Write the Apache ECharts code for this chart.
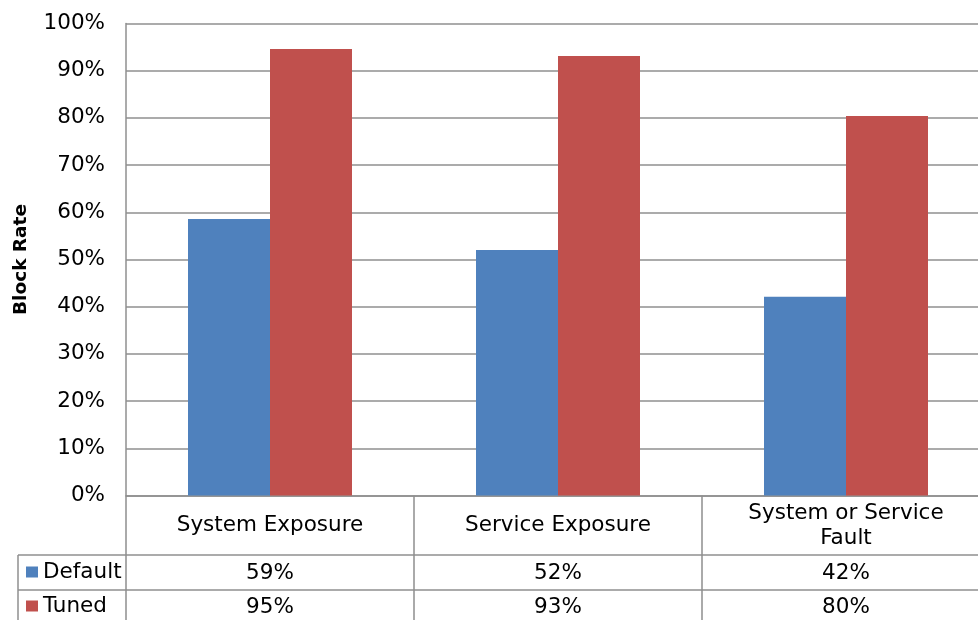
<!DOCTYPE html>
<html>
<head>
<meta charset="utf-8">
<script src="https://cdn.jsdelivr.net/npm/echarts@6/dist/echarts.min.js"></script>
<style>
html,body{margin:0;padding:0;background:#fff;}
#c{width:978px;height:620px;}
</style>
</head>
<body>
<div id="c"></div>
<script>
var categories = ['System Exposure', 'Service Exposure', 'System or Service\nFault'];
var defaultValues = [58.6, 52.0, 42.1];
var tunedValues = [94.6, 93.1, 80.4];
var seriesNames = ['Default', 'Tuned'];
var yTicks = [0, 10, 20, 30, 40, 50, 60, 70, 80, 90, 100];

var FONT = 'DejaVu Sans';
var FS = 21.5;
var GRID_COLOR = '#8f8f8f';
var chart = echarts.init(document.getElementById('c'), null, {renderer: 'canvas'});

function pct(v) { return Math.round(v) + '%'; }

function legendFor(name, top) {
  return {
    data: [name],
    orient: 'horizontal',
    left: 26,
    top: top,
    padding: 0,
    icon: 'rect',
    itemWidth: 12,
    itemHeight: 11,
    textStyle: {fontSize: FS, fontFamily: FONT, color: '#000'},
    selectedMode: false
  };
}

var option = {
  animation: false,
  backgroundColor: '#fff',
  textStyle: {fontFamily: FONT},
  grid: {left: 126, top: 23.5, right: -12, bottom: 124.5, containLabel: false, outerBoundsMode: 'none'},
  legend: [legendFor(seriesNames[0], 561), legendFor(seriesNames[1], 595)],
  xAxis: [
    {
      type: 'category',
      data: categories,
      position: 'bottom',
      axisLine: {show: true, lineStyle: {color: GRID_COLOR, width: 1.5}},
      axisTick: {show: true, alignWithLabel: false, length: 126, lineStyle: {color: GRID_COLOR, width: 1.5}},
      axisLabel: {interval: 0, fontSize: FS, fontFamily: FONT, color: '#000', margin: 30, verticalAlign: 'middle', lineHeight: 25, align: 'center'},
      splitLine: {show: false}
    },
    {
      type: 'category',
      data: defaultValues.map(pct),
      position: 'bottom',
      axisLine: {show: false},
      axisTick: {show: false},
      axisLabel: {interval: 0, fontSize: FS, fontFamily: FONT, color: '#000', margin: 78, verticalAlign: 'middle'},
      splitLine: {show: false}
    },
    {
      type: 'category',
      data: tunedValues.map(pct),
      position: 'bottom',
      axisLine: {show: false},
      axisTick: {show: false},
      axisLabel: {interval: 0, fontSize: FS, fontFamily: FONT, color: '#000', margin: 112, verticalAlign: 'middle'},
      splitLine: {show: false}
    }
  ],
  yAxis: {
    type: 'value',
    min: yTicks[0],
    max: yTicks[yTicks.length - 1],
    interval: 10,
    name: 'Block Rate',
    nameLocation: 'middle',
    nameRotate: 90,
    nameGap: 95,
    nameTextStyle: {fontSize: 18.5, fontWeight: 'bold', fontFamily: FONT, color: '#000'},
    axisLine: {show: true, lineStyle: {color: GRID_COLOR, width: 1.5}},
    axisTick: {show: false},
    axisLabel: {formatter: '{value}%', fontSize: FS, fontFamily: FONT, color: '#000', margin: 21},
    splitLine: {show: true, lineStyle: {color: GRID_COLOR, width: 1.5}}
  },
  series: [
    {
      name: seriesNames[0],
      type: 'bar',
      xAxisIndex: 0,
      data: defaultValues,
      barWidth: 82,
      barGap: '0%',
      itemStyle: {color: '#4f81bd'}
    },
    {
      name: seriesNames[1],
      type: 'bar',
      xAxisIndex: 0,
      data: tunedValues,
      barWidth: 82,
      barGap: '0%',
      itemStyle: {color: '#c0504d'}
    }
  ],
  graphic: [
    {type: 'line', shape: {x1: 18, y1: 555, x2: 978, y2: 555}, style: {stroke: GRID_COLOR, lineWidth: 1.5}, silent: true},
    {type: 'line', shape: {x1: 18, y1: 590, x2: 978, y2: 590}, style: {stroke: GRID_COLOR, lineWidth: 1.5}, silent: true},
    {type: 'line', shape: {x1: 18, y1: 555, x2: 18, y2: 620}, style: {stroke: GRID_COLOR, lineWidth: 1.5}, silent: true}
  ]
};
chart.setOption(option);
</script>
</body>
</html>
